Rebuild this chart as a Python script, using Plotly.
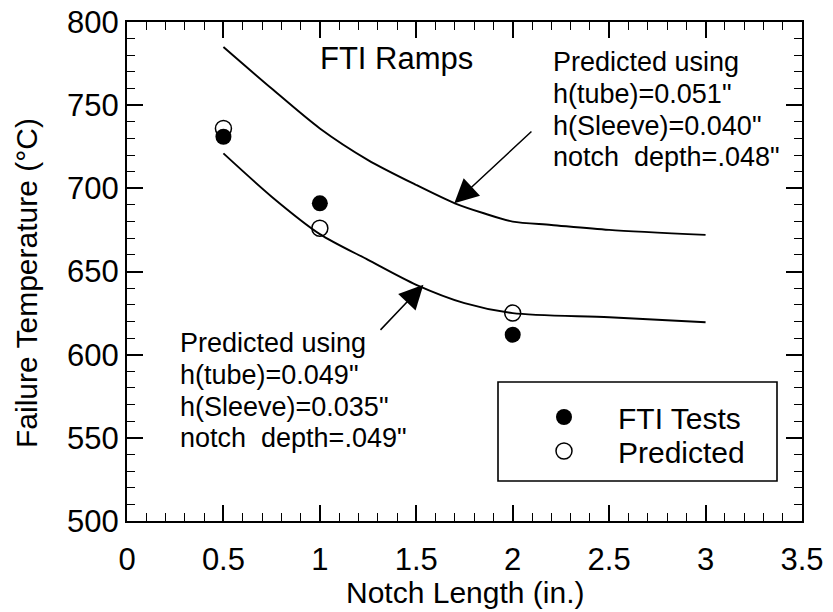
import plotly.graph_objects as go

# ---- data ----
notch_len = [0.5, 1.0, 2.0]
fti_tests = [731, 691, 612]
predicted = [736, 676, 625]

upper_x = [0.5, 0.75, 1.0, 1.25, 1.5, 1.7, 1.85, 2.0, 2.2, 2.5, 3.0]
upper_y = [785, 760, 736, 717, 702, 691, 685, 680, 678, 675, 672]

lower_x = [0.5, 0.75, 1.0, 1.25, 1.5, 1.75, 2.0, 2.5, 3.0]
lower_y = [721, 695, 672.5, 657, 642, 631, 625, 622.5, 619.5]

x_ticks = [0, 0.5, 1, 1.5, 2, 2.5, 3, 3.5]
x_ticktext = ["0", "0.5", "1", "1.5", "2", "2.5", "3", "3.5"]
y_ticks = [500, 550, 600, 650, 700, 750, 800]
y_ticktext = ["500", "550", "600", "650", "700", "750", "800"]

upper_lines = ['Predicted using', 'h(tube)=0.051"', 'h(Sleeve)=0.040"', 'notch  depth=.048"']
lower_lines = ['Predicted using', 'h(tube)=0.049"', 'h(Sleeve)=0.035"', 'notch  depth=.049"']

FONT = "Liberation Sans, Arial, Helvetica, sans-serif"

fig = go.Figure()
fig.add_trace(go.Scatter(x=upper_x, y=upper_y, mode="lines", line=dict(color="black", width=1.9, shape="spline", smoothing=0.8), showlegend=False, hoverinfo="skip"))
fig.add_trace(go.Scatter(x=lower_x, y=lower_y, mode="lines", line=dict(color="black", width=1.9, shape="spline", smoothing=0.8), showlegend=False, hoverinfo="skip"))
fig.add_trace(go.Scatter(x=notch_len, y=fti_tests, mode="markers", name="FTI Tests",
                         marker=dict(symbol="circle", size=16, color="black"), legend="legend"))
fig.add_trace(go.Scatter(x=notch_len, y=predicted, mode="markers", name="Predicted",
                         marker=dict(symbol="circle-open", size=16, color="black", line=dict(width=1.5)), legend="legend2"))

# page body margin is removed below, so figure pixels == page pixels
W, H = 833, 612
L, R, T, B = 127, 31, 22, 91
pw, ph = W - L - R, H - T - B

def px2paper_x(px):
    return (px - L) / pw

def px2paper_y(py):
    return (H - B - py) / ph

axis_common = dict(showline=True, linecolor="black", linewidth=2, mirror="ticks",
                   ticks="inside", ticklen=16, tickwidth=1.6, tickcolor="black",
                   showgrid=False, zeroline=False, ticklabeloverflow="allow", automargin=False,
                   tickmode="array", tickfont=dict(family=FONT, size=31, color="black"))

minor_style = dict(tickmode="array", ticks="inside", ticklen=8, tickwidth=1.4, tickcolor="black", showgrid=False)

# minor tick positions: every 0.1 in. / every 10 °C between the major ticks
x_minor = [round(i * 0.1, 2) for i in range(36) if i % 5 != 0]
y_minor = [500 + 10 * i for i in range(31) if i % 5 != 0]

fig.update_xaxes(range=[0, 3.5], tickvals=x_ticks, ticktext=x_ticktext, ticklabelstandoff=10,
                 minor=dict(tickvals=x_minor, **minor_style), **axis_common)
fig.update_yaxes(range=[500, 800], tickvals=y_ticks, ticktext=y_ticktext,
                 minor=dict(tickvals=y_minor, **minor_style), **axis_common)

annotations = [
    dict(text="FTI Ramps", x=px2paper_x(396), y=px2paper_y(59), xref="paper", yref="paper",
         showarrow=False, xanchor="center", yanchor="middle", font=dict(family=FONT, size=31, color="black")),
]
upper_y_px = [62, 94, 126, 157]
lower_y_px = [343, 375, 407, 438]
for txt, ypx in zip(upper_lines, upper_y_px):
    annotations.append(dict(text=txt, x=px2paper_x(551), y=px2paper_y(ypx), xref="paper", yref="paper",
                            showarrow=False, xanchor="left", yanchor="middle", font=dict(family=FONT, size=27, color="black")))
for txt, ypx in zip(lower_lines, lower_y_px):
    annotations.append(dict(text=txt, x=px2paper_x(178), y=px2paper_y(ypx), xref="paper", yref="paper",
                            showarrow=False, xanchor="left", yanchor="middle", font=dict(family=FONT, size=27, color="black")))
annotations += [
    # arrows (head at curve, tail near label)
    dict(x=1.697, y=691, ax=2.105, ay=735, xref="x", yref="y", axref="x", ayref="y", text="",
         showarrow=True, arrowhead=2, arrowsize=3.2, arrowwidth=1.5, arrowcolor="black"),
    dict(x=1.537, y=642, ax=1.307, ay=614, xref="x", yref="y", axref="x", ayref="y", text="",
         showarrow=True, arrowhead=2, arrowsize=3.2, arrowwidth=1.5, arrowcolor="black"),
    # axis titles
    dict(text="Notch Length (in.)", x=0.5, y=px2paper_y(592), xref="paper", yref="paper",
         showarrow=False, xanchor="center", yanchor="middle", font=dict(family=FONT, size=30, color="black")),
    dict(text="Failure Temperature (°C)", x=px2paper_x(26), y=px2paper_y(283), xref="paper", yref="paper",
         showarrow=False, xanchor="center", yanchor="middle", textangle=-90, font=dict(family=FONT, size=30, color="black")),
]

legend_common = dict(bgcolor="rgba(0,0,0,0)", borderwidth=0, font=dict(family=FONT, size=30, color="black"),
                     itemwidth=98, xanchor="left", yanchor="middle")

fig.update_layout(
    width=W, height=H,
    margin=dict(l=L, r=R, t=T, b=B, autoexpand=False),
    paper_bgcolor="white", plot_bgcolor="white",
    annotations=annotations,
    legend=dict(x=px2paper_x(510), y=px2paper_y(417), **legend_common),
    legend2=dict(x=px2paper_x(510), y=px2paper_y(451), **legend_common),
    shapes=[dict(type="rect", xref="paper", yref="paper",
                 x0=px2paper_x(498), x1=px2paper_x(777), y0=px2paper_y(481), y1=px2paper_y(382),
                 line=dict(color="black", width=1.6), fillcolor="rgba(0,0,0,0)")],
)

fig.write_html("out.html", config={"displayModeBar": False},
               post_script="document.body.style.margin='0';")
